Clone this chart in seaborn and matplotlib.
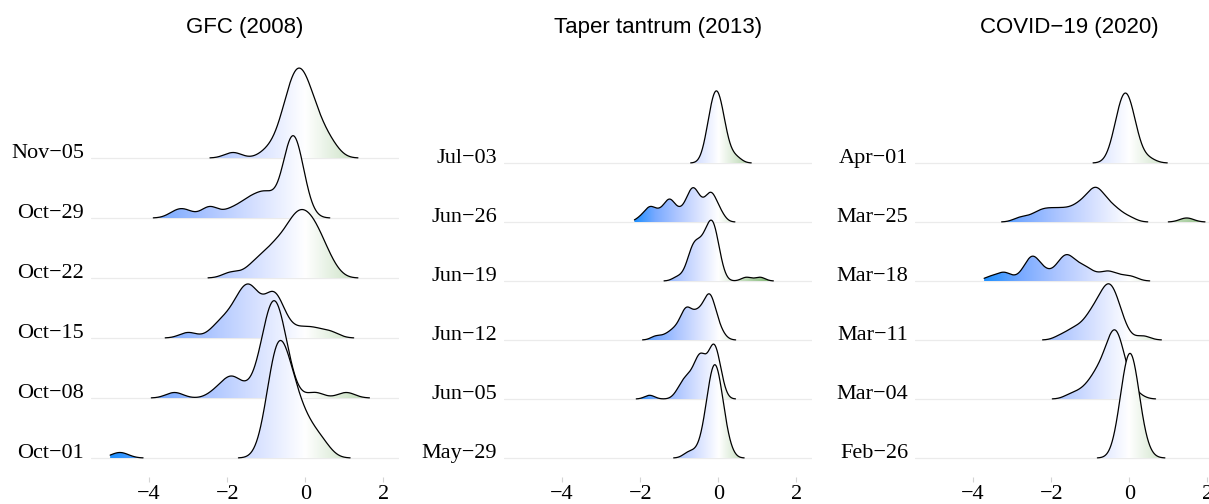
import numpy as np
import seaborn as sns
import matplotlib.pyplot as plt
from matplotlib.colors import LinearSegmentedColormap
from matplotlib.patches import Polygon

# --- data: observation positions and how many countries sit at each one ---
gfc_dates = ['Oct−01', 'Oct−08', 'Oct−15', 'Oct−22', 'Oct−29', 'Nov−05']
gfc_values = [
    [-4.75, -1.1, -0.9, -0.7, -0.5, -0.3, -0.1, 0.1, 0.35, 0.55],
    [-3.35, -2.3, -2.0, -1.8, -1.5, -1.2, -1.0, -0.8, -0.6, -0.4, 0.25, 1.05],
    [-3.0, -2.35, -2.1, -1.85, -1.65, -1.4, -1.1, -0.8, -0.55, -0.2, 0.05, 0.3, 0.65],
    [-1.9, -1.45, -1.2, -0.95, -0.75, -0.5, -0.25, 0.0, 0.25, 0.5, 0.75],
    [-3.3, -3.05, -2.45, -1.95, -1.7, -1.45, -1.2, -0.95, -0.6, -0.45, -0.3, -0.15, 0.0],
    [-1.85, -1.0, -0.7, -0.45, -0.2, 0.05, 0.3, 0.55, 0.75],
]
gfc_counts = [
    [1, 1, 6, 11, 7, 6, 3, 3, 2, 1],
    [1, 1, 2, 2, 1, 2, 6, 9, 6, 2, 1, 1],
    [1, 1, 2, 2, 4, 6, 3, 6, 2, 1, 1, 1, 1],
    [1, 1, 2, 2, 3, 4, 6, 6, 5, 3, 1],
    [1, 1, 2, 1, 1, 2, 2, 3, 1, 5, 7, 4, 1],
    [1, 1, 2, 6, 9, 7, 4, 2, 1],
]

taper_dates = ['May−29', 'Jun−05', 'Jun−12', 'Jun−19', 'Jun−26', 'Jul−03']
taper_values = [
    [-0.8, -0.65, -0.49, -0.39, -0.29, -0.19, -0.09, 0.01, 0.11, 0.21, 0.31],
    [-1.76, -1.05, -0.9, -0.75, -0.6, -0.45, -0.3, -0.15, -0.05, 0.05],
    [-1.6, -1.35, -1.15, -0.95, -0.8, -0.6, -0.45, -0.3, -0.2, -0.05, 0.1],
    [-1.05, -0.8, -0.65, -0.5, -0.35, -0.25, -0.15, -0.05, 0.05, 0.72, 1.07],
    [-2.0, -1.8, -1.7, -1.5, -1.3, -1.2, -1.0, -0.8, -0.65, -0.5, -0.35, -0.2, -0.1, 0.05],
    [-0.35, -0.25, -0.15, -0.05, 0.05, 0.15, 0.25, 0.35, 0.5],
]
taper_counts = [
    [1, 1, 1, 2, 5, 8, 10, 8, 5, 2, 1],
    [1, 1, 3, 3, 4, 8, 3, 8, 5, 3],
    [1, 1, 2, 3, 6, 4, 4, 4, 7, 3, 1],
    [1, 2, 6, 5, 5, 4, 8, 4, 2, 1, 1],
    [1, 2, 2, 2, 3, 3, 2, 3, 6, 3, 2, 5, 2, 2],
    [1, 4, 6, 8, 6, 4, 1, 1, 1],
]

covid_dates = ['Feb−26', 'Mar−04', 'Mar−11', 'Mar−18', 'Mar−25', 'Apr−01']
covid_values = [
    [-0.28, -0.18, -0.08, 0.02, 0.12, 0.22, 0.32, 0.42],
    [-1.5, -1.25, -1.1, -0.95, -0.8, -0.65, -0.5, -0.35, -0.2, -0.05, 0.2],
    [-1.75, -1.45, -1.2, -1.0, -0.85, -0.7, -0.55, -0.4, -0.25, -0.1, 0.35],
    [-3.55, -3.2, -2.75, -2.5, -2.25, -2.0, -1.75, -1.55, -1.3, -1.1, -0.85, -0.55, -0.25, 0.05],
    [-2.8, -2.5, -2.25, -2.0, -1.75, -1.5, -1.25, -1.0, -0.8, -0.55, -0.3, 0.0, 1.47],
    [-0.4, -0.25, -0.1, 0.05, 0.2, 0.5],
]
covid_counts = [
    [2, 4, 7, 9, 7, 4, 1, 1],
    [1, 1, 1, 2, 3, 3, 6, 8, 5, 2, 1],
    [1, 2, 2, 3, 3, 4, 6, 5, 3, 1, 1],
    [1, 2, 1, 5, 2, 1, 3, 4, 2, 2, 1, 2, 1, 1],
    [1, 1, 2, 2, 2, 2, 3, 4, 5, 3, 2, 1, 1],
    [2, 6, 8, 6, 2, 1],
]

titles = ['GFC (2008)', 'Taper tantrum (2013)', 'COVID−19 (2020)']
x_ticks = [-4, -2, 0, 2]

# density settings per panel: bandwidth, evaluation range, row spacing (px), ridge scale
panels = [
    (gfc_dates, gfc_values, gfc_counts, 0.22, (-5.0, 1.7), 60, 0.0505),
    (taper_dates, taper_values, taper_counts, 0.13, (-2.15, 1.5), 59, 0.0204),
    (covid_dates, covid_values, covid_counts, 0.18, (-3.72, 2.0), 59, 0.0306),
]
rel_min_height = 0.0012

sns.set_theme(style='white')
plt.rcParams['font.family'] = ['Liberation Serif', 'DejaVu Serif']
plt.rcParams['text.color'] = 'black'
plt.rcParams['xtick.labelcolor'] = 'black'
plt.rcParams['ytick.labelcolor'] = 'black'

ridge_cmap = LinearSegmentedColormap.from_list('ridge', [
    (0.0, '#1e90ff'), (0.125, '#79aaff'), (0.25, '#acc5ff'), (0.375, '#d7e1ff'),
    (0.5, '#ffffff'), (0.625, '#cce2c6'), (0.75, '#99c58f'), (0.875, '#64a85a'),
    (1.0, '#228b22')])

W, H = 1209, 504
fig = plt.figure(figsize=(W / 100, H / 100), dpi=100)
lefts = [91, 504, 915]
ax_w, ax_top, ax_bot = 308, 40, 477

for k, (dates, values, counts, bw, x_range, spacing, scale) in enumerate(panels):
    ax = fig.add_axes([lefts[k] / W, 1 - ax_bot / H, ax_w / W, (ax_bot - ax_top) / H])

    curves = []
    for vals, cnts in zip(values, counts):
        obs = np.repeat(vals, cnts)
        sns.kdeplot(x=obs, bw_method=bw / obs.std(ddof=1), cut=3, clip=x_range,
                    gridsize=700, ax=ax)
        line = ax.lines[-1]
        xs, dens = line.get_data()
        line.remove()
        curves.append((np.asarray(xs), np.asarray(dens) * len(obs) * scale))

    top = max(c[1].max() for c in curves)
    limit = max(abs(x_range[0]), abs(x_range[1]))

    for row, (xs, hs) in enumerate(curves):
        z = 20 - 2 * row
        idx = np.flatnonzero(hs > rel_min_height * top)
        runs = np.split(idx, np.flatnonzero(np.diff(idx) > 1) + 1)
        for r in runs:
            if len(r) < 2:
                continue
            xr, yr = xs[r], row + hs[r]
            verts = np.column_stack([np.r_[xr[0], xr, xr[-1]], np.r_[row, yr, row]])
            poly = Polygon(verts, closed=True, transform=ax.transData)
            grad = np.linspace(xr[0], xr[-1], 400)[None, :]
            im = ax.imshow(grad, extent=(xr[0], xr[-1], row, yr.max()), origin='lower',
                           aspect='auto', cmap=ridge_cmap, vmin=-limit, vmax=limit,
                           interpolation='bilinear', zorder=z)
            im.set_clip_path(poly)
            ax.plot(xr, yr, color='black', lw=0.9, zorder=z + 1)

    ax.set_xlim(-5.49, 2.40)
    ax.set_ylim(-(ax_bot - 458) / spacing, (458 - ax_top) / spacing)
    ax.set_xticks(x_ticks)
    ax.set_yticks(range(len(dates)))
    ax.set_yticklabels(dates)
    for t in ax.get_yticklabels():
        t.set_verticalalignment('baseline')
    ax.set_xlabel('')
    ax.set_ylabel('')
    ax.grid(axis='y', color='#ebebeb', lw=0.9)
    ax.grid(axis='x', visible=False)
    ax.set_axisbelow(True)
    for s in ax.spines.values():
        s.set_visible(False)
    ax.tick_params(axis='x', length=3.5, width=0.8, color='#d4d4d4', pad=2, labelsize=16,
                   bottom=True, labelcolor='black')
    ax.tick_params(axis='y', length=0, pad=5, labelsize=16, labelcolor='black')
    ax.set_facecolor('none')

    fig.text((lefts[k] + ax_w / 2) / W, 1 - 33 / H, titles[k], ha='center', va='baseline',
             fontsize=16, color='black', family=['Liberation Sans', 'DejaVu Sans'])

fig.savefig('out.png', dpi=100)
